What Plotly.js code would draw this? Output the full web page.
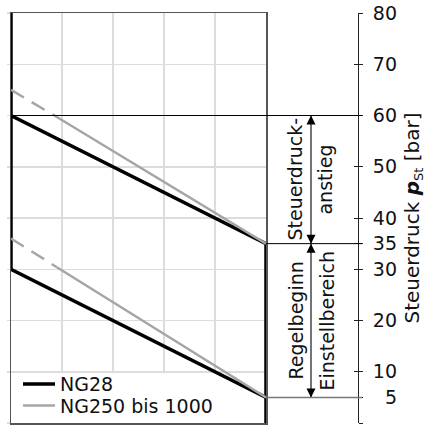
<!DOCTYPE html>
<html><head><meta charset="utf-8">
<script src="https://cdn.plot.ly/plotly-3.0.1.min.js"></script>
<style>html,body{margin:0;padding:0;background:#fff}#chart{width:432px;height:428px}</style>
</head><body><div id="chart"></div>
<script>
// ---- data ----
const seriesNames = ['NG28', 'NG250 bis 1000'];
const ng28UpperX = [0, 5];
const ng28UpperY = [60, 35];
const ng28LowerX = [0, 5];
const ng28LowerY = [30, 5];
// large sizes: first segment dashed, second solid
const ngLargeUpperX = [0, 0.85, 5];
const ngLargeUpperY = [65, 60, 35];
const ngLargeLowerX = [0, 0.9, 5];
const ngLargeLowerY = [36, 30.4, 5];
const pressureTicks = [5, 10, 20, 30, 35, 40, 50, 60, 70, 80];
const pressureTickLabels = ['\u20075', '10', '20', '30', '35', '40', '50', '60', '70', '80'];
const extraTicks = [0];
const yRange = [0, 80];
const xRange = [0, 5];
const rangeAnstieg = [60, 35];
const rangeEinstell = [35, 5];
const labelsAnstieg = ['Steuerdruck-', 'anstieg'];
const labelsEinstell = ['Regelbeginn', 'Einstellbereich'];
const axisTitle = 'Steuerdruck <span style="font-weight:bold;font-style:italic">p</span>' +
  '<span style="font-size:13px;baseline-shift:-4px">St</span> [bar]';

// ---- geometry ----
const W = 432, H = 428;
const M = {l: 11, r: 74, t: 13, b: 3};
const plotW = W - M.l - M.r;
const plotH = H - M.t - M.b;
const px = v => (v - M.l) / plotW;      // pixel -> paper x
const py = v => (H - M.b - v) / plotH;  // pixel -> paper y
const xDomEnd = px(266);
const lineEnd = px(362);
const arrowX = px(311);
const FONT = 'DejaVu Sans';
const FS = 19;
const BLACK = '#000';
const GRAY = '#a6a6a6';
const TXT = '#111';

const arrowTrace = r => ({
  x: [arrowX, arrowX], y: r, xaxis: 'x2', yaxis: 'y4', mode: 'lines+markers',
  line: {color: BLACK, width: 1.1},
  marker: {symbol: ['arrow-up', 'arrow-down'], size: 9, color: BLACK, line: {width: 0}},
  showlegend: false, hoverinfo: 'skip', cliponaxis: false
});

const traces = [
  { // NG28 outline
    x: [ng28LowerX[1], ng28LowerX[0], ng28LowerX[0], null, ng28UpperX[0], ng28UpperX[1], ng28UpperX[1]],
    y: [ng28LowerY[1], ng28LowerY[0], yRange[1], null, ng28UpperY[0], ng28UpperY[1], yRange[0]],
    mode: 'lines', name: seriesNames[0], line: {color: BLACK, width: 3.5},
    legend: 'legend', hoverinfo: 'skip'
  },
  { // large sizes dashed parts
    x: [ngLargeUpperX[0], ngLargeUpperX[1], null, ngLargeLowerX[0], ngLargeLowerX[1]],
    y: [ngLargeUpperY[0], ngLargeUpperY[1], null, ngLargeLowerY[0], ngLargeLowerY[1]],
    mode: 'lines', showlegend: false, line: {color: GRAY, width: 2.5, dash: '15px,9px'}, hoverinfo: 'skip'
  },
  { // large sizes solid parts
    x: [ngLargeUpperX[1], ngLargeUpperX[2], null, ngLargeLowerX[1], ngLargeLowerX[2]],
    y: [ngLargeUpperY[1], ngLargeUpperY[2], null, ngLargeLowerY[1], ngLargeLowerY[2]],
    mode: 'lines', name: seriesNames[1], line: {color: GRAY, width: 2.5},
    legend: 'legend2', hoverinfo: 'skip'
  },
  {x: [null], y: [null], yaxis: 'y2', showlegend: false, hoverinfo: 'skip'},
  {x: [null], y: [null], yaxis: 'y3', showlegend: false, hoverinfo: 'skip'},
  {x: [null], y: [null], yaxis: 'y5', showlegend: false, hoverinfo: 'skip'},
  arrowTrace(rangeAnstieg),
  arrowTrace(rangeEinstell)
];

const axisBase = {
  overlaying: 'y', anchor: 'free', position: 1, side: 'right', range: yRange,
  tickmode: 'array', ticklen: 4, tickwidth: 1, tickcolor: '#222',
  showline: true, linecolor: '#222', linewidth: 1,
  showgrid: false, zeroline: false, fixedrange: true
};
const rightAxis = Object.assign({}, axisBase, {
  tickvals: pressureTicks, ticktext: pressureTickLabels, ticks: 'outside',
  tickfont: {family: FONT, size: FS, color: TXT}, ticklabelstandoff: 6,
  title: {text: axisTitle, font: {family: FONT, size: 20, color: TXT}, standoff: 9}
});
const rightAxisInner = Object.assign({}, axisBase, {
  tickvals: pressureTicks.concat(extraTicks), ticks: 'inside', showticklabels: false
});
const rightAxisZero = Object.assign({}, axisBase, {
  tickvals: extraTicks, ticks: 'outside', showticklabels: false
});

const refShapes = [
  {y: rangeAnstieg[0], x0: 0, color: BLACK, w: 1},
  {y: rangeAnstieg[1], x0: xDomEnd, color: BLACK, w: 1},
  {y: rangeEinstell[1], x0: xDomEnd, color: '#777', w: 1.5}
].map(s => ({type: 'line', xref: 'paper', yref: 'y', x0: s.x0, x1: lineEnd, y0: s.y, y1: s.y,
  line: {color: s.color, width: s.w}, layer: 'above'}));

const legendBg = {type: 'rect', xref: 'x', yref: 'y', x0: 0, x1: 4.25, y0: 0, y1: 9.7,
  fillcolor: '#fff', line: {width: 0}, layer: 'between'};

const mid = r => (r[0] + r[1]) / 2;
const textAnn = (t, xpx, r) => ({
  xref: 'paper', yref: 'y', x: px(xpx), y: mid(r), text: t, showarrow: false, textangle: -90,
  font: {family: FONT, size: FS, color: TXT}, xanchor: 'center', yanchor: 'middle'
});
const texts = [
  textAnn(labelsAnstieg[0], 295, rangeAnstieg), textAnn(labelsAnstieg[1], 325, rangeAnstieg),
  textAnn(labelsEinstell[0], 295, rangeEinstell), textAnn(labelsEinstell[1], 326, rangeEinstell)
];

const legendCommon = {xanchor: 'left', yanchor: 'middle', bgcolor: 'rgba(0,0,0,0)', borderwidth: 0,
  font: {family: FONT, size: FS, color: TXT}, itemwidth: 32};

const layout = {
  width: W, height: H, margin: M, paper_bgcolor: '#fff', plot_bgcolor: 'rgba(0,0,0,0)',
  font: {family: FONT, size: FS, color: TXT},
  showlegend: true,
  xaxis: {domain: [0, xDomEnd], range: xRange, dtick: 1, tick0: 0, showticklabels: false, ticks: '',
    showgrid: true, gridcolor: '#dcdcdc', gridwidth: 1.5, zeroline: false,
    showline: true, mirror: true, linecolor: '#555', linewidth: 1.5, fixedrange: true},
  yaxis: {range: yRange, dtick: 10, tick0: 0, showticklabels: false, ticks: 'outside', ticklen: 3,
    tickcolor: '#dcdcdc', tickwidth: 1.5,
    showgrid: true, gridcolor: '#dcdcdc', gridwidth: 1.5, zeroline: false,
    showline: true, mirror: true, linecolor: '#555', linewidth: 1.5, fixedrange: true},
  yaxis2: rightAxis,
  yaxis3: rightAxisInner,
  yaxis5: rightAxisZero,
  xaxis2: {domain: [0, 1], range: [0, 1], visible: false, anchor: 'y4', fixedrange: true},
  yaxis4: {domain: [0, 1], range: yRange, visible: false, anchor: 'x2', fixedrange: true},
  legend: Object.assign({x: px(18), y: py(386)}, legendCommon),
  legend2: Object.assign({x: px(18), y: py(407.5)}, legendCommon),
  shapes: [legendBg].concat(refShapes),
  annotations: texts
};

Plotly.newPlot('chart', traces, layout, {displayModeBar: false, staticPlot: true});
</script>
</body></html>
